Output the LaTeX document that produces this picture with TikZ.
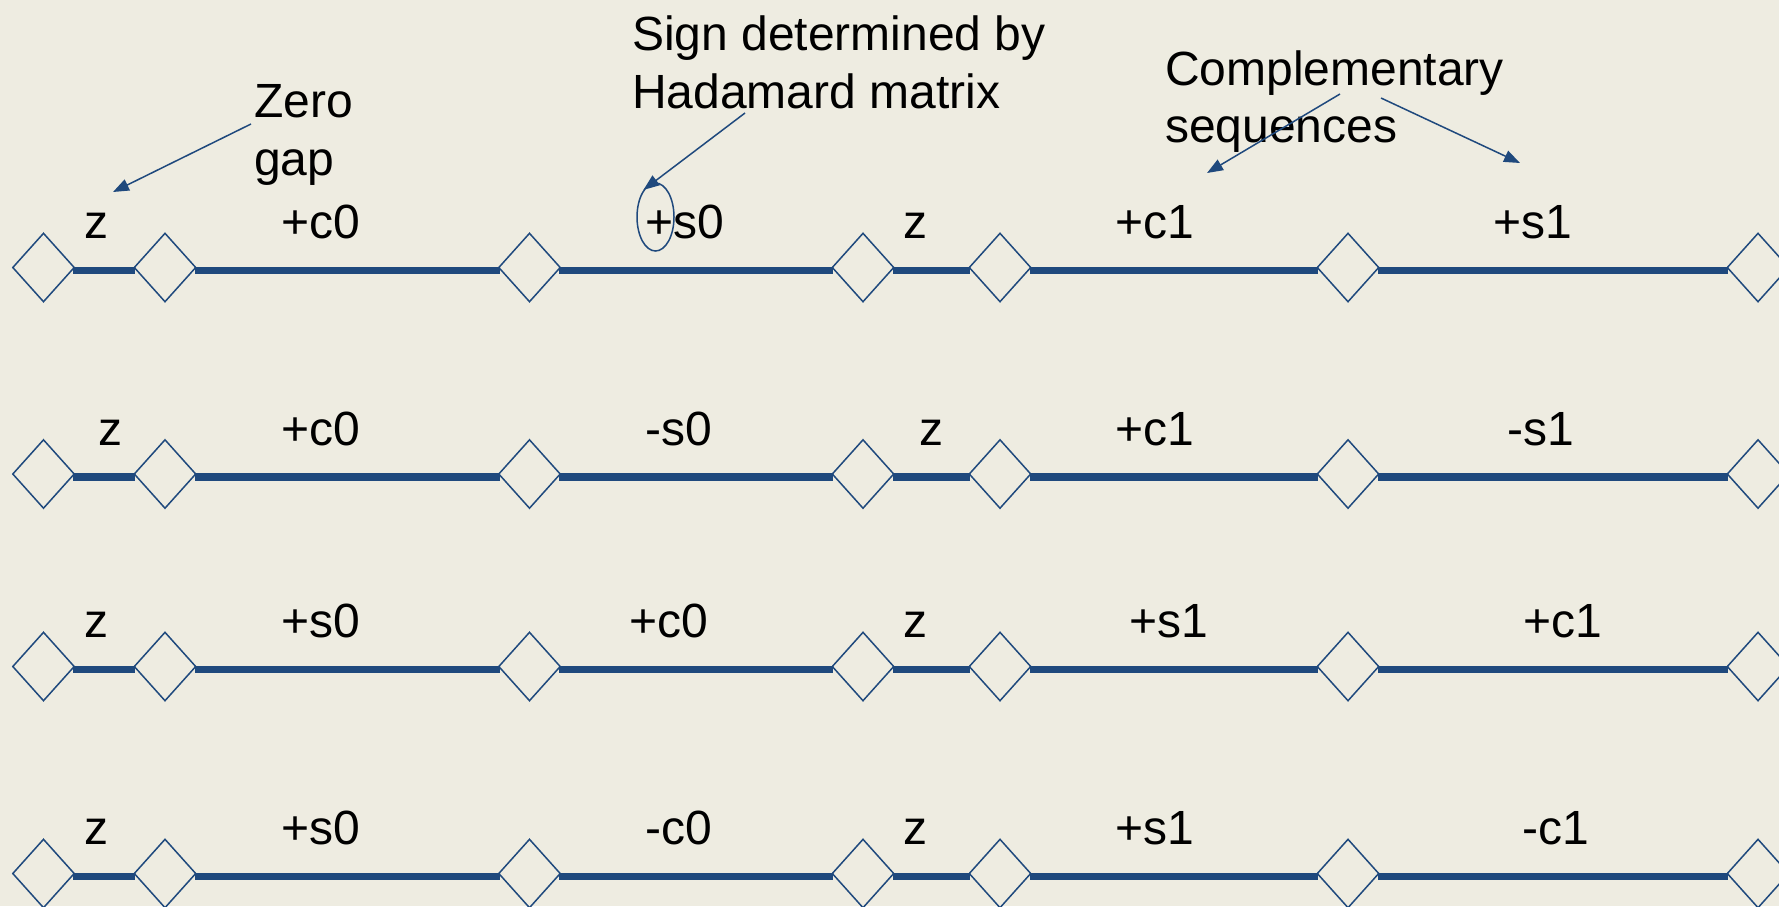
\documentclass[tikz,border=0pt]{standalone}
\usepackage{fontspec}
\setmainfont{Liberation Sans}
\usetikzlibrary{shapes.geometric,arrows.meta}
\definecolor{bgc}{RGB}{238,236,225}
\definecolor{navy}{RGB}{31,73,125}
\tikzset{
  dia/.style={diamond, draw=navy, line width=1.5pt, fill=bgc,
              minimum width=62pt, minimum height=69pt, inner sep=0pt},
  seg/.style={draw=navy, line width=7.5pt, shorten <=-2pt, shorten >=-2pt},
  lbl/.style={anchor=base, inner sep=0pt, text=black,
              font=\fontsize{48}{58}\selectfont},
  note/.style={anchor=base west, align=left, inner sep=0pt, text=black},
  arr/.style={draw=navy, line width=1.5pt, -{Triangle[length=16pt,width=12pt]}},
  ring/.style={ellipse, draw=navy, line width=1.5pt, minimum width=37pt,
               minimum height=68pt, inner sep=0pt}
}
\begin{document}
\begin{tikzpicture}[x=1pt,y=-1pt]
\useasboundingbox (0,0) rectangle (1779,906);
\clip (0,0) rectangle (1779,906);
\fill[bgc] (0,0) rectangle (1779,906);

% rows of diamonds and segments
\foreach \r/\y in {1/267.5,2/474,3/666.5,4/873.5}{
  \foreach \c/\x in {1/43.5,2/165,3/529.5,4/863,5/1000,6/1348,7/1758}
    \node[dia] (d\r-\c) at (\x,\y) {};
  \foreach \a/\b in {1/2,2/3,3/4,4/5,5/6,6/7}
    \draw[seg] ([yshift=-3pt]d\r-\a.east) -- ([yshift=-3pt]d\r-\b.west);
}

% row 1 labels
\node[lbl] (l1a) at (96.5,238.5) {z};
\node[lbl] (l1b) at (321,238.5) {+c0};
\node[lbl] (l1c) at (685,238.5) {+s0};
\node[lbl] (l1d) at (915.5,238.5) {z};
\node[lbl] (l1e) at (1155,238.5) {+c1};
\node[lbl] (l1f) at (1533,238.5) {+s1};
% row 2 labels
\node[lbl] (l2a) at (110,445) {z};
\node[lbl] (l2b) at (321,445) {+c0};
\node[lbl] (l2c) at (678.5,445) {-s0};
\node[lbl] (l2d) at (931,445) {z};
\node[lbl] (l2e) at (1155,445) {+c1};
\node[lbl] (l2f) at (1541,445) {-s1};
% row 3 labels
\node[lbl] (l3a) at (96,637.5) {z};
\node[lbl] (l3b) at (321,637.5) {+s0};
\node[lbl] (l3c) at (669,637.5) {+c0};
\node[lbl] (l3d) at (915,637.5) {z};
\node[lbl] (l3e) at (1169,637.5) {+s1};
\node[lbl] (l3f) at (1563,637.5) {+c1};
% row 4 labels
\node[lbl] (l4a) at (96,844) {z};
\node[lbl] (l4b) at (321,844) {+s0};
\node[lbl] (l4c) at (678.5,844) {-c0};
\node[lbl] (l4d) at (915,844) {z};
\node[lbl] (l4e) at (1155,844) {+s1};
\node[lbl] (l4f) at (1556,844) {-c1};

% annotations (base anchor = baseline of last line)
\node[note, font=\fontsize{48}{58}\selectfont] (zg) at (254,175) {Zero\\gap};
\node[note, font=\fontsize{48}{58}\selectfont] (sd) at (632,108) {Sign determined by\\Hadamard matrix};
\node[note, font=\fontsize{48}{57}\selectfont] (cs) at (1165,142) {Complementary\\sequences};

\node[ring] (hs) at (655.5,217) {};

\coordinate (zgs) at (251,124);
\coordinate (zge) at (113,192);
\draw[arr] (zgs) -- (zge);

\coordinate (sds) at (745,113);
\draw[arr] (sds) -- (hs.114);

\coordinate (cs1) at (1340,94);
\coordinate (ce1) at (1207,173);
\coordinate (cs2) at (1381,98);
\coordinate (ce2) at (1520,163);
\draw[arr] (cs1) -- (ce1);
\draw[arr] (cs2) -- (ce2);
\end{tikzpicture}
\end{document}
